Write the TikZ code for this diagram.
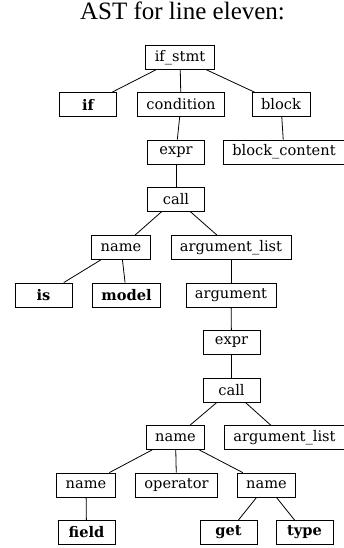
\documentclass[tikz,border=0pt]{standalone}
\usepackage{fontspec}
\newfontfamily\nodefont{DejaVu Serif}
\newfontfamily\titlefont{Liberation Serif}
\usepackage{tikz}
\usetikzlibrary{positioning,calc}
\tikzset{ast/.style={draw=black,line width=0.8pt,rectangle,inner xsep=9pt,inner ysep=0pt,minimum width=57pt,minimum height=24pt,font=\nodefont\fontsize{14.6}{16}\selectfont},
  kw/.style={ast,font=\nodefont\bfseries\fontsize{14.6}{16}\selectfont}}

\begin{document}
\begin{tikzpicture}[-, x=1pt, y=-1pt, line width=0.8pt]
    \useasboundingbox (0,0) rectangle (344,548);
    \node[anchor=base,font=\titlefont\fontsize{25}{28}\selectfont] (title) at (182.5,20) {AST for line eleven:};

    \node[ast] (ifstmt) at (180,57.5) {if\_stmt};
    \node[kw] (if) at (88,104.5) {if};
    \node[ast] (cond) at (181,104.5) {condition};
    \node[ast] (block) at (281,104.5) {block};
    \node[ast] (expr) at (176,152) {expr};
    \node[ast] (bcont) at (284,152) {block\_content};
    \node[ast] (call) at (176,199) {call};
    \node[ast] (name) at (121,247.5) {name};
    \node[ast] (alist) at (231,247.5) {argument\_list};
    \node[kw] (is) at (43.5,295) {is};
    \node[kw] (model) at (126.5,295) {model};
    \node[ast] (arg) at (231,295) {argument};
    \node[ast] (expr2) at (231.5,342.5) {expr};
    \node[ast] (call2) at (231.5,390) {call};
    \node[ast] (name2) at (175.5,437.5) {name};
    \node[ast] (alist2) at (284.5,437.5) {argument\_list};
    \node[ast] (name3) at (86,485) {name};
    \node[ast] (op) at (176.5,485) {operator};
    \node[ast] (name4) at (266.5,485) {name};
    \node[kw] (field) at (86.5,532.5) {field};
    \node[kw] (get) at (228.5,532.5) {get};
    \node[kw] (type) at (304.5,532.5) {type};

    \draw (ifstmt) -- (if);
    \draw (ifstmt) -- (cond);
    \draw (ifstmt) -- (block);
    \draw (cond) -- (expr);
    \draw (block) -- (bcont);
    \draw (expr) -- (call);
    \draw (call) -- (name);
    \draw (call) -- (alist);
    \draw (name) -- (is);
    \draw (name) -- (model);
    \draw (alist) -- (arg);
    \draw (arg) -- (expr2);
    \draw (expr2) -- (call2);
    \draw (call2) -- (name2);
    \draw (call2) -- (alist2);
    \draw (name2) -- (name3);
    \draw (name2) -- (op);
    \draw (name2) -- (name4);
    \draw (name3) -- (field);
    \draw (name4) -- (get);
    \draw (name4) -- (type);
\end{tikzpicture}
\end{document}
